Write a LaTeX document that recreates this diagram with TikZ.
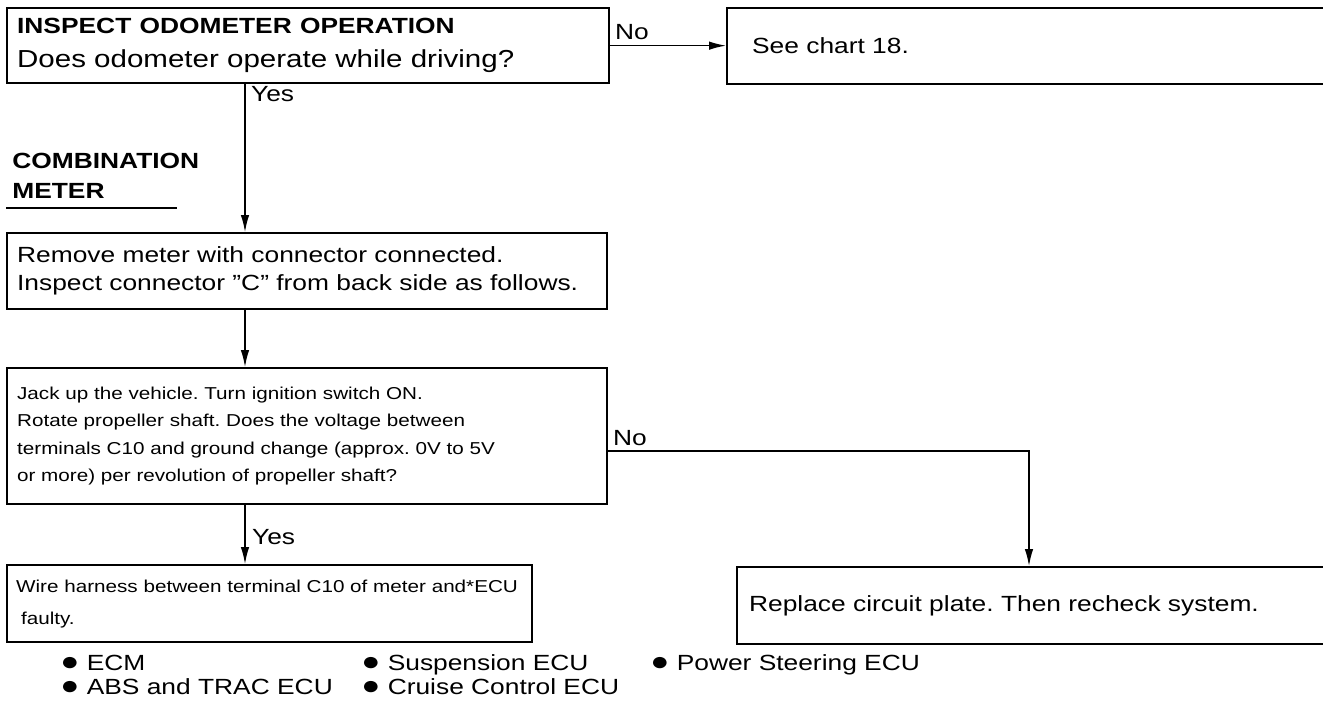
\documentclass[tikz,border=0pt]{standalone}
\usepackage{fontspec}
\setmainfont{Liberation Sans}[FakeStretch=1.2]
\usetikzlibrary{arrows.meta, positioning, calc}
\frenchspacing

\newcommand{\bigtxt}{\fontsize{12.5}{15.9}\selectfont}
\newcommand{\smalltxt}{\fontsize{9.8}{15.6}\selectfont}
\newcommand{\dotmark}{{\fontsize{15}{15}\selectfont ●}}

\tikzset{
  stepbox/.style={draw, line width=1.3pt, anchor=north west, align=left,
    inner xsep=0.2cm, inner ysep=0pt, font=\bigtxt},
  arr/.style={-{Latex[length=3.4mm,width=1.7mm]}, line width=0.8pt},
  lbl/.style={font=\bigtxt, inner sep=1pt},
  item/.style={font=\bigtxt, anchor=base west, inner sep=0pt},
}

\begin{document}
\begin{tikzpicture}[x=0.02cm, y=-0.02cm]
  \useasboundingbox (0,0) rectangle (1323,701);
  \clip (0,0) rectangle (1323,701);

  % Check boxes
  \node[stepbox, minimum width=12.04cm, minimum height=1.5cm, text width=11.64cm,
        font={\fontsize{14}{19.3}\selectfont}] (q1) at (6,7)
    {{\fontsize{12.5}{19.3}\selectfont\bfseries INSPECT ODOMETER OPERATION}\\
     Does odometer operate while driving?};
  \node[stepbox, minimum width=12.28cm, minimum height=1.52cm, text width=11.28cm,
        inner xsep=0.5cm] (q2) at (726,7) {See chart 18.};
  \node[stepbox, minimum width=12cm, minimum height=1.52cm, text width=11.6cm] (q3) at (6,232)
    {Remove meter with connector connected.\\Inspect connector ''C'' from back side as follows.};
  \node[stepbox, minimum width=12cm, minimum height=2.72cm, text width=11.6cm,
        font=\smalltxt] (q4) at (6,367)
    {Jack up the vehicle. Turn ignition switch ON.\\
     Rotate propeller shaft. Does the voltage between\\
     terminals C10 and ground change (approx. 0V to 5V\\
     or more) per revolution of propeller shaft?\par\vspace*{0.6cm}};
  \node[stepbox, minimum width=10.5cm, minimum height=1.54cm, text width=10.14cm,
        inner xsep=0.18cm, font={\fontsize{9.8}{18.2}\selectfont}] (q6) at (6,564)
    {Wire harness between terminal C10 of meter and*ECU\\\hspace*{0.1cm}faulty.};
  \node[stepbox, minimum width=12.1cm, minimum height=1.54cm, text width=11.62cm,
        inner xsep=0.24cm] (q5) at (736,566) {Replace circuit plate. Then recheck system.};

  % Section heading
  \node[font={\fontsize{12.5}{17}\selectfont\bfseries}, anchor=north west, align=left,
        inner sep=0pt] (meter) at (12,153) {COMBINATION\\METER};
  \draw[line width=1.3pt] (6,208) -- (177,208);

  % Flow
  \coordinate (spine) at (245,0);
  \coordinate (bend) at (1029,451);
  \draw[arr] (q1.east) -- (q1.east -| q2.west);
  \draw[arr] (q1.south -| spine) -- (q3.north -| spine);
  \draw[arr] (q3.south -| spine) -- (q4.north -| spine);
  \draw[arr] (q4.south -| spine) -- (q6.north -| spine);
  \draw[arr] (q4.east |- bend) -- (bend) -- (q5.north -| bend);

  % Answers
  \node[lbl, anchor=south west] (no1) at (613,42) {No};
  \node[lbl, anchor=north west] (yes1) at (249,84) {Yes};
  \node[lbl, anchor=south west] (no2) at (611,448) {No};
  \node[lbl, anchor=west] (yes2) at (250,537) {Yes};

  % ECU list
  \node[item] (ecm) at (60,670) {\dotmark\ ECM};
  \node[item] (abs) at (60,694) {\dotmark\ ABS and TRAC ECU};
  \node[item] (susp) at (361,670) {\dotmark\ Suspension ECU};
  \node[item] (cruise) at (361,694) {\dotmark\ Cruise Control ECU};
  \node[item] (pwr) at (650,670) {\dotmark\ Power Steering ECU};
\end{tikzpicture}
\end{document}
